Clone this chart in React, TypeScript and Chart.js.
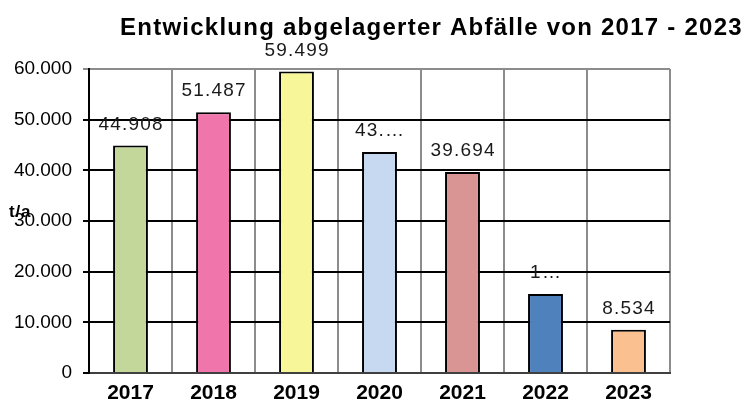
import React, { useEffect, useRef } from "react";
import { Chart, registerables } from "chart.js";

Chart.register(...registerables);

const titleText = "Entwicklung abgelagerter Abfälle von 2017 - 2023";
const unitLabel = "t/a";
const years = ["2017", "2018", "2019", "2020", "2021", "2022", "2023"];
const values = [44908, 51487, 59499, 43640, 39694, 15580, 8534];
const valueLabels = ["44.908", "51.487", "59.499", "43.…", "39.694", "1…", "8.534"];
const barColors = ["#C4D79B", "#EF75AB", "#F7F79A", "#C6D9F1", "#D99594", "#4F81BD", "#FAC090"];
const yMax = 60000;
const yStep = 10000;

const fmt = (v: number) => {
  const s = Math.round(v).toString();
  return s.replace(/\B(?=(\d{3})+(?!\d))/g, ".");
};

const overlayPlugin = {
  id: "overlay",
  afterDatasetsDraw(chart: any) {
    const ctx = chart.ctx;
    const meta = chart.getDatasetMeta(0);
    ctx.save();
    ctx.fillStyle = "#1a1a1a";
    ctx.font = "19px 'Liberation Sans', Arial, sans-serif";
    (ctx as any).letterSpacing = "1.2px";
    ctx.textAlign = "center";
    ctx.textBaseline = "middle";
    meta.data.forEach((bar: any, i: number) => {
      ctx.fillText(valueLabels[i], bar.x + 0.6, bar.y - 21);
    });
    ctx.restore();
  },
  afterDraw(chart: any) {
    const ctx = chart.ctx;
    ctx.save();
    ctx.fillStyle = "#000";
    ctx.textAlign = "left";
    ctx.textBaseline = "alphabetic";
    ctx.font = "bold 24px 'Liberation Sans', Arial, sans-serif";
    (ctx as any).letterSpacing = "1.25px";
    ctx.fillText(titleText, 120, 35);
    ctx.font = "bold 17px 'Liberation Sans', Arial, sans-serif";
    (ctx as any).letterSpacing = "0.8px";
    ctx.fillText(unitLabel, 9, 217);
    ctx.restore();
  },
};

export default function App() {
  const ref = useRef<HTMLCanvasElement | null>(null);
  useEffect(() => {
    if (!ref.current) return;
    const chart = new Chart(ref.current, {
      type: "bar",
      data: {
        labels: years,
        datasets: [
          {
            data: values,
            backgroundColor: barColors,
            borderColor: "#000",
            borderWidth: 2,
            barPercentage: 0.42,
            categoryPercentage: 1,
          },
        ],
      },
      options: {
        responsive: false,
        animation: false,
        devicePixelRatio: 1,
        layout: { padding: { top: 69, right: 74, left: 0, bottom: 0 } },
        plugins: { legend: { display: false }, title: { display: false }, tooltip: { enabled: false } },
        scales: {
          x: {
            afterFit: (s: any) => { s.height = 32; },
            grid: { color: "#8c8c8c", lineWidth: 2, offset: true, drawTicks: false },
            border: { color: "#404040", width: 2 },
            ticks: {
              color: "#000",
              padding: 8,
              font: { family: "'Liberation Sans', Arial, sans-serif", size: 21, weight: "bold" },
            },
          },
          y: {
            min: 0,
            max: yMax,
            afterFit: (s: any) => { s.width = 89; },
            grid: {
              color: (c: any) => (c.tick && c.tick.value === yMax ? "#8c8c8c" : "#000"),
              lineWidth: 2,
              tickLength: 6,
            },
            border: { color: "#000", width: 2 },
            ticks: {
              stepSize: yStep,
              color: "#000",
              padding: 11,
              font: { family: "'Liberation Sans', Arial, sans-serif", size: 19 },
              callback: (v: any) => fmt(Number(v)),
            },
          },
        },
      },
      plugins: [overlayPlugin],
    });
    return () => chart.destroy();
  }, []);
  return (
    <div style={{ position: "absolute", left: 0, top: 0, width: 744, height: 405, background: "#fff" }}>
      <canvas ref={ref} width={744} height={405} style={{ width: 744, height: 405 }} />
    </div>
  );
}
